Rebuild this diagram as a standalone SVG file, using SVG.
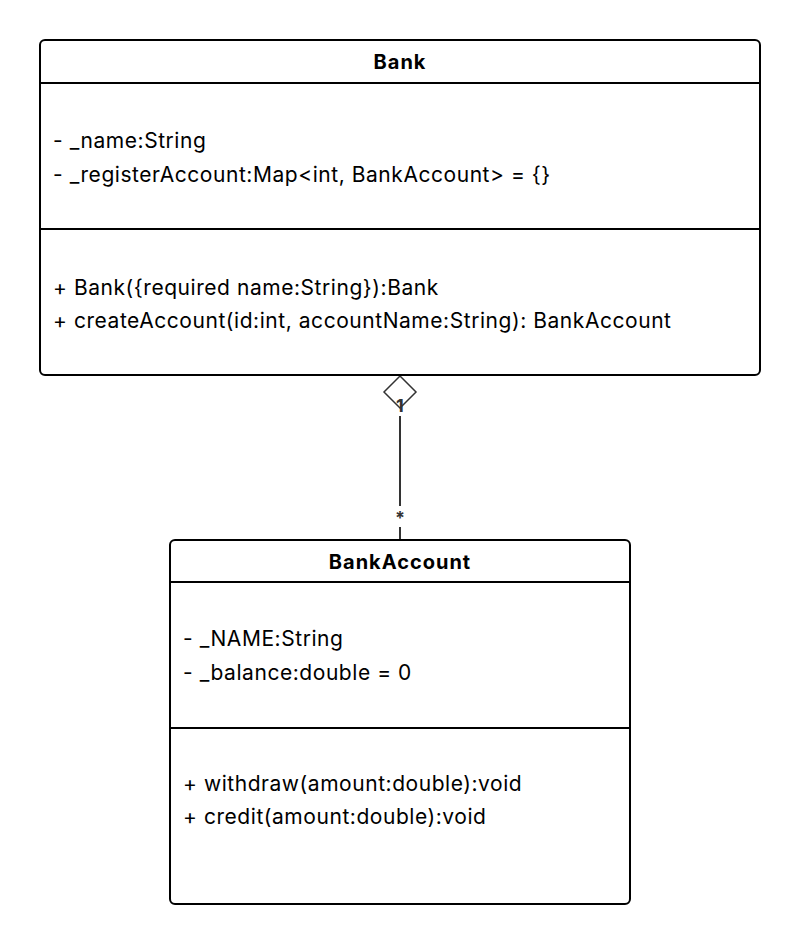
<svg xmlns="http://www.w3.org/2000/svg" width="800" height="944" viewBox="0 0 800 944">
<style>
.box{fill:#fff;stroke:#000;stroke-width:2}
.sep{stroke:#000;stroke-width:2}
.t{font-family:Inter,"Noto Sans",sans-serif;font-size:21px;letter-spacing:0.55px;fill:#000}
.h{font-family:Inter,"Noto Sans",sans-serif;font-size:20px;letter-spacing:1px;font-weight:bold;fill:#000;text-anchor:middle}
.lbl{font-family:Inter,"Noto Sans",sans-serif;font-size:18px;font-weight:bold;fill:#333;text-anchor:middle}
.edge{stroke:#333;stroke-width:2;fill:none}
</style>
<rect width="800" height="944" fill="#fff"/>
<g id="connectors">
<line class="edge" x1="400" y1="416" x2="400" y2="506"/>
<line class="edge" x1="400" y1="527" x2="400" y2="540"/>
<path d="M400 376 L416 392 L400 408 L384 392 Z" fill="#fff" stroke="#333" stroke-width="1.5"/>
<text class="lbl" x="400" y="412">1</text>
<text class="lbl" x="400" y="524">*</text>
</g>
<g id="Bank">
<rect class="box" x="40" y="40" width="720" height="335" rx="5"/>
<line class="sep" x1="40" y1="83" x2="760" y2="83"/>
<line class="sep" x1="40" y1="229" x2="760" y2="229"/>
<text class="h" x="400" y="69">Bank</text>
<text class="t" x="53" y="148">- _name:String</text>
<text class="t" x="53" y="182">- _registerAccount:Map&lt;int, BankAccount&gt; = {}</text>
<text class="t" x="53" y="295">+ Bank({required name:String}):Bank</text>
<text class="t" x="53" y="328">+ createAccount(id:int, accountName:String): BankAccount</text>
</g>
<g id="BankAccount">
<rect class="box" x="170" y="540" width="460" height="364" rx="5"/>
<line class="sep" x1="170" y1="582" x2="630" y2="582"/>
<line class="sep" x1="170" y1="728" x2="630" y2="728"/>
<text class="h" x="400" y="569">BankAccount</text>
<text class="t" x="183" y="646">- _NAME:String</text>
<text class="t" x="183" y="680">- _balance:double = 0</text>
<text class="t" x="183" y="791">+ withdraw(amount:double):void</text>
<text class="t" x="183" y="824">+ credit(amount:double):void</text>
</g>
</svg>
